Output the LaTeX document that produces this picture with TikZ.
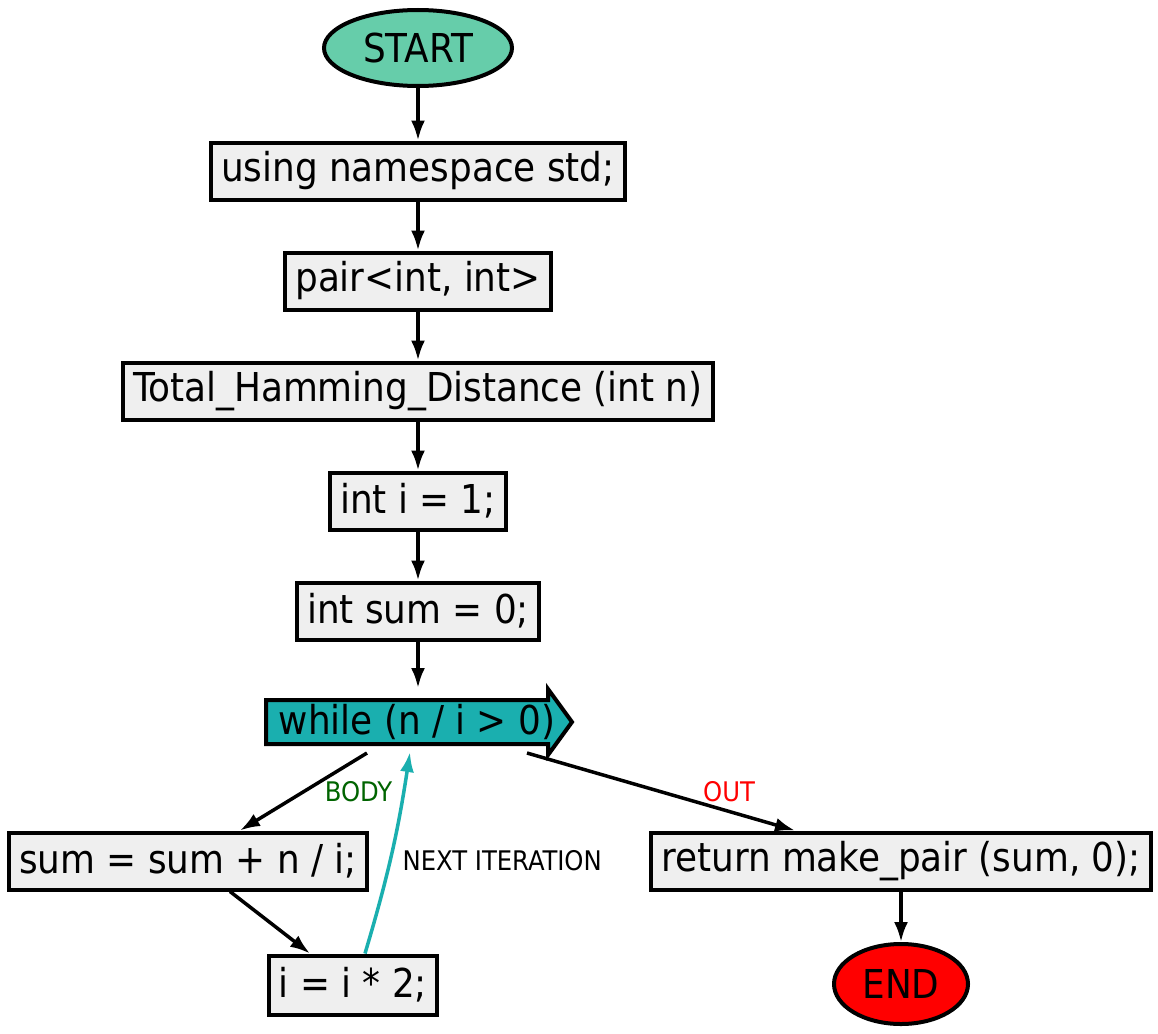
\documentclass[tikz,border=0pt]{standalone}
\usepackage{fontspec}
\setmainfont{DejaVu Sans Condensed}
\usetikzlibrary{calc,arrows.meta,shapes.geometric}

\definecolor{startgreen}{RGB}{102,205,170}
\definecolor{boxgray}{RGB}{239,239,239}
\definecolor{loopteal}{RGB}{26,175,175}
\definecolor{bodygreen}{RGB}{0,100,0}

\begin{document}
\begin{tikzpicture}[x=1pt,y=-1pt,
    every node/.style={font=\fontsize{39.8}{47}\selectfont},
    stmt/.style={draw=black,line width=4pt,fill=boxgray,minimum height=57pt,inner xsep=10pt,inner ysep=0pt},
    term/.style={ellipse,draw=black,line width=4pt,inner sep=0pt},
    flow/.style={line width=3.5pt,-{Latex[length=20pt,width=14pt]}},
    lbl/.style={font=\fontsize{27}{32}\selectfont}]
    \fill[white] (0,0) rectangle (1158,1033);
    \useasboundingbox (0,0) rectangle (1158,1033);
    % main column
    \node[term,fill=startgreen,minimum width=188pt,minimum height=76pt] (start) at (418,48) {START};
    \node[stmt] (ns) at (418,171) {using namespace std;};
    \node[stmt] (pair) at (418,281) {pair<int, int>};
    \node[stmt] (func) at (418,391) {Total\_Hamming\_Distance (int n)};
    \node[stmt] (initi) at (418,501) {int i = 1;};
    \node[stmt] (initsum) at (418,611) {int sum = 0;};
    % loop head
    \coordinate (loopc) at (417,722);
    \draw[line width=4pt,fill=loopteal,line join=miter]
        ($(loopc)+(-151,-22)$) -- ($(loopc)+(131,-22)$) -- ($(loopc)+(131,-33)$) -- ($(loopc)+(155,0)$)
        -- ($(loopc)+(131,33)$) -- ($(loopc)+(131,22)$) -- ($(loopc)+(-151,22)$) -- cycle;
    \node[inner sep=0pt] (loop) at (loopc) {while (n / i > 0)};
    \coordinate (loop-in) at ($(loopc)+(1,-34)$);
    \coordinate (loop-body) at ($(loopc)+(-50,31)$);
    \coordinate (loop-out) at ($(loopc)+(110,31)$);
    \coordinate (loop-back) at ($(loopc)+(-7,30)$);
    % branches
    \node[stmt] (sumi) at (188,861) {sum = sum + n / i;};
    \node[stmt,minimum height=59pt] (incr) at (353,985) {i = i * 2;};
    \node[stmt] (ret) at (901,861) {return make\_pair (sum, 0);};
    \node[term,fill=red,minimum width=134pt,minimum height=80pt] (end) at (901,984) {END};
    % connectors
    \draw[flow] (start) -- (ns);
    \draw[flow] (ns) -- (pair);
    \draw[flow] (pair) -- (func);
    \draw[flow] (func) -- (initi);
    \draw[flow] (initi) -- (initsum);
    \draw[flow] (initsum) -- (loop-in);
    \draw[flow] (loop-body) -- node[lbl,text=bodygreen,pos=.5,xshift=55pt] {BODY} ([xshift=52pt]sumi.north);
    \draw[flow] (loop-out) -- node[lbl,text=red,pos=.5,xshift=68pt] {OUT} ([xshift=-106pt]ret.north);
    \draw[flow] ([xshift=42pt]sumi.south) -- ([xshift=-43pt]incr.north);
    \draw[flow,draw=loopteal,-{Latex[length=20pt,width=14pt,fill=loopteal]}] ([xshift=12pt]incr.north)
        to[bend right=4] node[lbl,midway,right=6pt,yshift=-7pt] {NEXT ITERATION} (loop-back);
    \draw[flow] (ret) -- (end);
\end{tikzpicture}
\end{document}
